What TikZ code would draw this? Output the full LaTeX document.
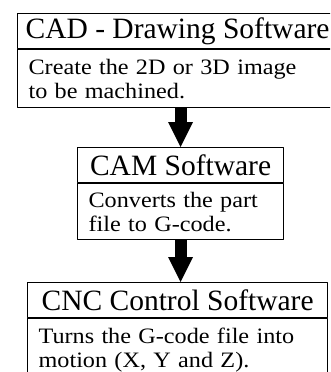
\documentclass[tikz,border=0pt]{standalone}
\usepackage{fontspec}
\setmainfont{Liberation Serif}
\newfontfamily\bodyfont[FakeStretch=1.1]{Liberation Serif}
\usepackage{tikz}
\usetikzlibrary{arrows.meta}

\begin{document}
\begin{tikzpicture}[line cap=round,line join=round,x=1pt,y=-1pt,
  head/.style={draw,line width=1.2pt,anchor=north west,inner xsep=0pt,inner ysep=0pt,
    minimum height=35pt,font=\fontsize{29.5}{32}\selectfont},
  body/.style={draw,line width=1.2pt,anchor=north west,inner xsep=11pt,inner ysep=0pt,
    align=left,font=\bodyfont\fontsize{22}{24}\selectfont},
  flow/.style={line width=12pt,line cap=butt,
    -{Triangle[width=25pt,length=25pt,line width=0pt]}}]
\useasboundingbox (0,0) rectangle (330,372);
\clip (0,0) rectangle (330,372);
% the three boxes
\node[head,minimum width=320pt] (cadhead) at (17,13) {CAD - Drawing Software};
\node[body,text width=298pt,minimum height=58pt] (cadtext) at (cadhead.south west) {Create the 2D or 3D image\\to be machined.};
\node[head,minimum width=206pt] (camhead) at (77,147) {CAM Software};
\node[body,text width=184pt,minimum height=56pt] (camtext) at (camhead.south west) {Converts the part\\file to G-code.};
\node[head,minimum width=300pt] (cnchead) at (27,282) {CNC Control Software};
\node[body,text width=278pt,minimum height=62pt] (cnctext) at (cnchead.south west) {Turns the G-code file into\\motion (X, Y and Z).};
% arrows
\draw [flow] (cadtext.south -| camhead.north) -- (camhead.north);
\draw [flow] (camtext.south) -- (camtext.south |- cnchead.north);
\end{tikzpicture}
\end{document}
